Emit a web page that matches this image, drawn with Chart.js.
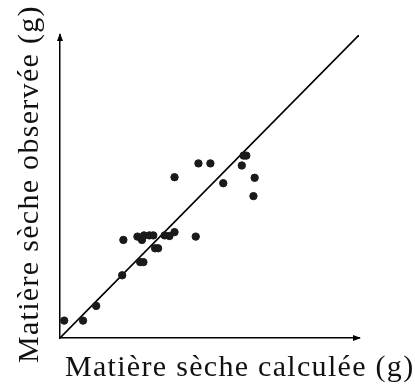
<!DOCTYPE html>
<html>
<head>
<meta charset="utf-8">
<script src="https://cdn.jsdelivr.net/npm/chart.js@4"></script>
<style>
  body { margin: 0; background: #fff; }
  canvas { display: block; }
</style>
</head>
<body>
<canvas id="c" width="415" height="386"></canvas>
<script>
const calcValues = [1.4, 7.7, 12.1, 20.8, 21.2, 25.9, 27.4, 28.1, 29.9, 31.2, 26.8, 27.9, 31.8, 32.8,
  35.0, 36.6, 38.3, 38.3, 45.4, 46.3, 50.3, 54.6, 60.8, 61.4, 62.3, 65.1, 64.7];
const obsValues = [5.8, 5.8, 10.7, 20.9, 32.7, 33.8, 32.7, 34.2, 34.2, 34.2, 25.3, 25.3, 29.9, 29.9,
  34.2, 34.0, 35.3, 53.6, 33.8, 58.2, 58.2, 51.6, 57.5, 60.8, 60.8, 53.4, 47.3];
const lineX = [0, 100];
const lineY = [0, 101];
const xTitle = "Matière sèche calculée (g)";
const yTitle = "Matière sèche observée (g)";

const points = calcValues.map((x, i) => ({ x: x, y: obsValues[i] }));
const diag = lineX.map((x, i) => ({ x: x, y: lineY[i] }));

// axis arrows + titles (scale titles get squeezed to the chart width, so draw them here)
const axesDeco = {
  id: "axesDeco",
  afterDraw(chart) {
    const ctx = chart.ctx;
    const a = chart.chartArea;
    ctx.save();
    ctx.fillStyle = "#000";
    ctx.beginPath();
    ctx.moveTo(a.right + 2, a.bottom);
    ctx.lineTo(a.right - 6, a.bottom - 3);
    ctx.lineTo(a.right - 6, a.bottom + 3);
    ctx.closePath();
    ctx.fill();
    ctx.beginPath();
    ctx.moveTo(a.left, a.top - 2);
    ctx.lineTo(a.left - 3, a.top + 6);
    ctx.lineTo(a.left + 3, a.top + 6);
    ctx.closePath();
    ctx.fill();

    ctx.fillStyle = "#111";
    ctx.font = "30px 'Liberation Serif'";
    ctx.letterSpacing = "1.3px";
    ctx.textAlign = "left";
    ctx.textBaseline = "alphabetic";
    ctx.fillText(xTitle, a.left + 5, a.bottom + 38);
    ctx.translate(a.left - 22, a.bottom + 25);
    ctx.rotate(-Math.PI / 2);
    ctx.fillText(yTitle, 0, 0);
    ctx.restore();
  }
};

new Chart(document.getElementById("c"), {
  type: "scatter",
  data: {
    datasets: [
      {
        data: points,
        backgroundColor: "#1a1a1a",
        borderColor: "#1a1a1a",
        pointRadius: 3.7,
        showLine: false
      },
      {
        data: diag,
        showLine: true,
        borderColor: "#000",
        borderWidth: 1.6,
        pointRadius: 0
      }
    ]
  },
  options: {
    responsive: false,
    animation: false,
    layout: { padding: { left: 52, right: 56, top: 35, bottom: 40 } },
    plugins: { legend: { display: false }, tooltip: { enabled: false } },
    scales: {
      x: {
        min: 0, max: 100,
        grid: { display: false },
        border: { display: true, color: "#000", width: 1.5 },
        ticks: { display: false }
      },
      y: {
        min: 0, max: 101,
        grid: { display: false },
        border: { display: true, color: "#000", width: 1.5 },
        ticks: { display: false }
      }
    }
  },
  plugins: [axesDeco]
});
</script>
</body>
</html>
